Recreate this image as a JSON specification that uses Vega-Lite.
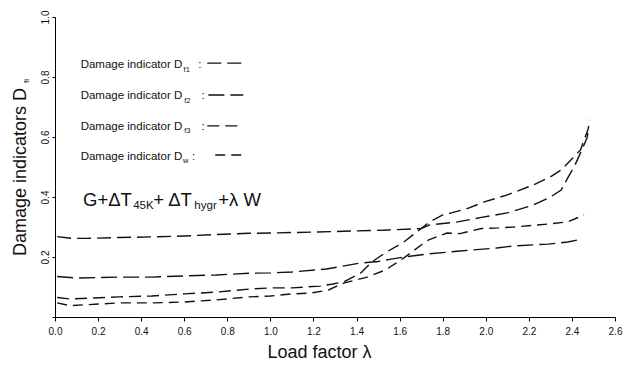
{
  "$schema": "https://vega.github.io/schema/vega-lite/v6.json",
  "width": 560,
  "height": 300,
  "autosize": {"type": "none"},
  "padding": {"left": 55, "top": 17, "right": 14, "bottom": 48},
  "background": "white",
  "config": {
    "view": {"stroke": null},
    "font": "Liberation Sans",
    "axis": {
      "labelFont": "Liberation Sans",
      "titleFont": "Liberation Sans",
      "labelColor": "#111",
      "titleColor": "#111",
      "domainColor": "#000",
      "tickColor": "#000",
      "grid": false,
      "titleFontWeight": "normal",
      "titleFontSize": 18,
      "labelFontSize": 10,
      "labelOverlap": false,
      "labelFlush": false
    }
  },
  "datasets": {
    "curves": [
      {"series": "f1", "lam": 0.01, "d": 0.268}, {"series": "f1", "lam": 0.08, "d": 0.262}, {"series": "f1", "lam": 0.15, "d": 0.262},
      {"series": "f1", "lam": 0.30, "d": 0.265}, {"series": "f1", "lam": 0.45, "d": 0.267}, {"series": "f1", "lam": 0.60, "d": 0.270},
      {"series": "f1", "lam": 0.75, "d": 0.275}, {"series": "f1", "lam": 0.90, "d": 0.279}, {"series": "f1", "lam": 1.00, "d": 0.280},
      {"series": "f1", "lam": 1.20, "d": 0.283}, {"series": "f1", "lam": 1.40, "d": 0.287}, {"series": "f1", "lam": 1.55, "d": 0.290},
      {"series": "f1", "lam": 1.70, "d": 0.295}, {"series": "f1", "lam": 1.74, "d": 0.307}, {"series": "f1", "lam": 1.87, "d": 0.317},
      {"series": "f1", "lam": 1.98, "d": 0.332}, {"series": "f1", "lam": 2.10, "d": 0.347}, {"series": "f1", "lam": 2.22, "d": 0.373},
      {"series": "f1", "lam": 2.30, "d": 0.400}, {"series": "f1", "lam": 2.35, "d": 0.423}, {"series": "f1", "lam": 2.38, "d": 0.463},
      {"series": "f1", "lam": 2.41, "d": 0.500}, {"series": "f1", "lam": 2.44, "d": 0.547}, {"series": "f1", "lam": 2.47, "d": 0.597},
      {"series": "f1", "lam": 2.478, "d": 0.625},

      {"series": "f2", "lam": 0.01, "d": 0.135}, {"series": "f2", "lam": 0.10, "d": 0.130}, {"series": "f2", "lam": 0.30, "d": 0.133},
      {"series": "f2", "lam": 0.45, "d": 0.133}, {"series": "f2", "lam": 0.60, "d": 0.137}, {"series": "f2", "lam": 0.75, "d": 0.140},
      {"series": "f2", "lam": 0.90, "d": 0.146}, {"series": "f2", "lam": 1.00, "d": 0.147}, {"series": "f2", "lam": 1.10, "d": 0.150},
      {"series": "f2", "lam": 1.26, "d": 0.160}, {"series": "f2", "lam": 1.42, "d": 0.180}, {"series": "f2", "lam": 1.50, "d": 0.185},
      {"series": "f2", "lam": 1.56, "d": 0.193}, {"series": "f2", "lam": 1.62, "d": 0.200}, {"series": "f2", "lam": 1.73, "d": 0.210},
      {"series": "f2", "lam": 1.88, "d": 0.220}, {"series": "f2", "lam": 2.05, "d": 0.230}, {"series": "f2", "lam": 2.13, "d": 0.237},
      {"series": "f2", "lam": 2.29, "d": 0.243}, {"series": "f2", "lam": 2.38, "d": 0.250}, {"series": "f2", "lam": 2.43, "d": 0.257},

      {"series": "f3", "lam": 0.01, "d": 0.065}, {"series": "f3", "lam": 0.07, "d": 0.060}, {"series": "f3", "lam": 0.30, "d": 0.067},
      {"series": "f3", "lam": 0.45, "d": 0.070}, {"series": "f3", "lam": 0.60, "d": 0.077}, {"series": "f3", "lam": 0.75, "d": 0.083},
      {"series": "f3", "lam": 0.90, "d": 0.093}, {"series": "f3", "lam": 1.00, "d": 0.097}, {"series": "f3", "lam": 1.10, "d": 0.097},
      {"series": "f3", "lam": 1.23, "d": 0.103}, {"series": "f3", "lam": 1.29, "d": 0.110}, {"series": "f3", "lam": 1.34, "d": 0.117},
      {"series": "f3", "lam": 1.42, "d": 0.147}, {"series": "f3", "lam": 1.47, "d": 0.183}, {"series": "f3", "lam": 1.54, "d": 0.217},
      {"series": "f3", "lam": 1.62, "d": 0.250}, {"series": "f3", "lam": 1.70, "d": 0.295}, {"series": "f3", "lam": 1.74, "d": 0.317},
      {"series": "f3", "lam": 1.80, "d": 0.340}, {"series": "f3", "lam": 1.84, "d": 0.347}, {"series": "f3", "lam": 1.92, "d": 0.363},
      {"series": "f3", "lam": 1.99, "d": 0.383}, {"series": "f3", "lam": 2.10, "d": 0.407}, {"series": "f3", "lam": 2.22, "d": 0.440},
      {"series": "f3", "lam": 2.30, "d": 0.467}, {"series": "f3", "lam": 2.35, "d": 0.490}, {"series": "f3", "lam": 2.395, "d": 0.523},
      {"series": "f3", "lam": 2.44, "d": 0.557}, {"series": "f3", "lam": 2.456, "d": 0.590}, {"series": "f3", "lam": 2.474, "d": 0.623},
      {"series": "f3", "lam": 2.484, "d": 0.657},

      {"series": "w", "lam": 0.01, "d": 0.047}, {"series": "w", "lam": 0.07, "d": 0.038}, {"series": "w", "lam": 0.30, "d": 0.047},
      {"series": "w", "lam": 0.45, "d": 0.047}, {"series": "w", "lam": 0.60, "d": 0.050}, {"series": "w", "lam": 0.75, "d": 0.057},
      {"series": "w", "lam": 0.90, "d": 0.067}, {"series": "w", "lam": 1.00, "d": 0.070}, {"series": "w", "lam": 1.10, "d": 0.077},
      {"series": "w", "lam": 1.19, "d": 0.080}, {"series": "w", "lam": 1.27, "d": 0.090}, {"series": "w", "lam": 1.34, "d": 0.113},
      {"series": "w", "lam": 1.45, "d": 0.133}, {"series": "w", "lam": 1.535, "d": 0.157}, {"series": "w", "lam": 1.62, "d": 0.197},
      {"series": "w", "lam": 1.70, "d": 0.240}, {"series": "w", "lam": 1.735, "d": 0.257}, {"series": "w", "lam": 1.82, "d": 0.280},
      {"series": "w", "lam": 1.88, "d": 0.278}, {"series": "w", "lam": 1.98, "d": 0.295}, {"series": "w", "lam": 2.06, "d": 0.297},
      {"series": "w", "lam": 2.13, "d": 0.300}, {"series": "w", "lam": 2.29, "d": 0.310}, {"series": "w", "lam": 2.38, "d": 0.317},
      {"series": "w", "lam": 2.456, "d": 0.340}
    ],
    "samples": [
      {"series": "f1", "x1": 0.707, "x2": 0.874, "y": 0.846},
      {"series": "f2", "x1": 0.712, "x2": 0.874, "y": 0.740},
      {"series": "f3", "x1": 0.707, "x2": 0.874, "y": 0.637},
      {"series": "w", "x1": 0.744, "x2": 0.884, "y": 0.540}
    ],
    "legendMain": [
      {"t": "Damage indicator D", "x": 0.591, "y": 0.829},
      {"t": "Damage indicator D", "x": 0.591, "y": 0.726},
      {"t": "Damage indicator D", "x": 0.591, "y": 0.623},
      {"t": "Damage indicator D", "x": 0.591, "y": 0.523}
    ],
    "legendColon": [
      {"t": ":", "x": 0.665, "y": 0.829},
      {"t": ":", "x": 0.680, "y": 0.726},
      {"t": ":", "x": 0.680, "y": 0.623},
      {"t": ":", "x": 0.636, "y": 0.523}
    ],
    "legendSub": [
      {"t": "f1", "x": 0.597, "y": 0.818},
      {"t": "f2", "x": 0.600, "y": 0.715},
      {"t": "f3", "x": 0.600, "y": 0.612},
      {"t": "w", "x": 0.594, "y": 0.512}
    ],
    "formulaMain": [
      {"t": "G+ΔT", "x": 0.130, "y": 0.370},
      {"t": "+ ΔT", "x": 0.456, "y": 0.370},
      {"t": "+λ W", "x": 0.758, "y": 0.370}
    ],
    "formulaSub": [
      {"t": "45K", "x": 0.363, "y": 0.359},
      {"t": "hygr", "x": 0.647, "y": 0.359}
    ],
    "titleSub": [
      {"t": "fi", "x": -0.121, "y": 0.78}
    ]
  },
  "layer": [
    {
      "data": {"name": "curves"},
      "mark": {"type": "line", "color": "#111", "strokeWidth": 1.4},
      "encoding": {
        "x": {
          "field": "lam", "type": "quantitative",
          "scale": {"domain": [0, 2.6], "nice": false, "zero": false},
          "axis": {
            "title": "Load factor λ",
            "values": [0, 0.1, 0.2, 0.3, 0.4, 0.5, 0.6, 0.7, 0.8, 0.9, 1.0, 1.1, 1.2, 1.3, 1.4, 1.5, 1.6, 1.7, 1.8, 1.9, 2.0, 2.1, 2.2, 2.3, 2.4, 2.5, 2.6],
            "labelExpr": "(round(datum.value*10) % 2 == 0) ? format(datum.value, '.1f') : ''",
            "tickSize": 4,
            "labelPadding": 5,
            "titleX": 264,
            "titleY": 40,
            "titleAlign": "center",
            "titleBaseline": "alphabetic"
          }
        },
        "y": {
          "field": "d", "type": "quantitative",
          "scale": {"domain": [0, 1], "nice": false},
          "axis": {
            "title": "Damage indicators D",
            "values": [0, 0.1, 0.2, 0.3, 0.4, 0.5, 0.6, 0.7, 0.8, 0.9, 1.0],
            "labelExpr": "(round(datum.value*10) % 2 == 0 && datum.value > 0) ? format(datum.value, '.1f') : ''",
            "labelAngle": 270,
            "labelAlign": "center",
            "labelBaseline": "alphabetic",
            "tickSize": 3,
            "labelPadding": 4,
            "titleAngle": 270,
            "titleX": -30,
            "titleY": 154.5,
            "titleAlign": "center",
            "titleBaseline": "alphabetic"
          }
        },
        "detail": {"field": "series"},
        "strokeDash": {
          "field": "series", "type": "nominal",
          "scale": {"domain": ["f1", "f2", "f3", "w"], "range": [[14, 6], [16, 6], [12, 6], [10, 6]]},
          "legend": null
        }
      }
    },
    {
      "data": {"name": "samples"},
      "mark": {"type": "rule", "color": "#111", "strokeWidth": 1.3},
      "encoding": {
        "x": {"field": "x1", "type": "quantitative"},
        "x2": {"field": "x2"},
        "y": {"field": "y", "type": "quantitative"},
        "strokeDash": {"field": "series", "type": "nominal", "legend": null}
      }
    },
    {
      "data": {"name": "legendMain"},
      "mark": {"type": "text", "align": "right", "baseline": "alphabetic", "fontSize": 11.5, "color": "#111", "font": "Liberation Sans"},
      "encoding": {
        "x": {"field": "x", "type": "quantitative"},
        "y": {"field": "y", "type": "quantitative"},
        "text": {"field": "t"}
      }
    },
    {
      "data": {"name": "legendColon"},
      "mark": {"type": "text", "align": "left", "baseline": "alphabetic", "fontSize": 11.5, "color": "#111", "font": "Liberation Sans"},
      "encoding": {
        "x": {"field": "x", "type": "quantitative"},
        "y": {"field": "y", "type": "quantitative"},
        "text": {"field": "t"}
      }
    },
    {
      "data": {"name": "legendSub"},
      "mark": {"type": "text", "align": "left", "baseline": "alphabetic", "fontSize": 7.5, "color": "#111", "font": "Liberation Sans"},
      "encoding": {
        "x": {"field": "x", "type": "quantitative"},
        "y": {"field": "y", "type": "quantitative"},
        "text": {"field": "t"}
      }
    },
    {
      "data": {"name": "formulaMain"},
      "mark": {"type": "text", "align": "left", "baseline": "alphabetic", "fontSize": 18.5, "color": "#111", "font": "Liberation Sans"},
      "encoding": {
        "x": {"field": "x", "type": "quantitative"},
        "y": {"field": "y", "type": "quantitative"},
        "text": {"field": "t"}
      }
    },
    {
      "data": {"name": "formulaSub"},
      "mark": {"type": "text", "align": "left", "baseline": "alphabetic", "fontSize": 11.5, "color": "#111", "font": "Liberation Sans"},
      "encoding": {
        "x": {"field": "x", "type": "quantitative"},
        "y": {"field": "y", "type": "quantitative"},
        "text": {"field": "t"}
      }
    },
    {
      "data": {"name": "titleSub"},
      "mark": {"type": "text", "align": "left", "baseline": "alphabetic", "angle": 270, "fontSize": 8, "color": "#111", "font": "Liberation Sans"},
      "encoding": {
        "x": {"field": "x", "type": "quantitative"},
        "y": {"field": "y", "type": "quantitative"},
        "text": {"field": "t"}
      }
    }
  ]
}
